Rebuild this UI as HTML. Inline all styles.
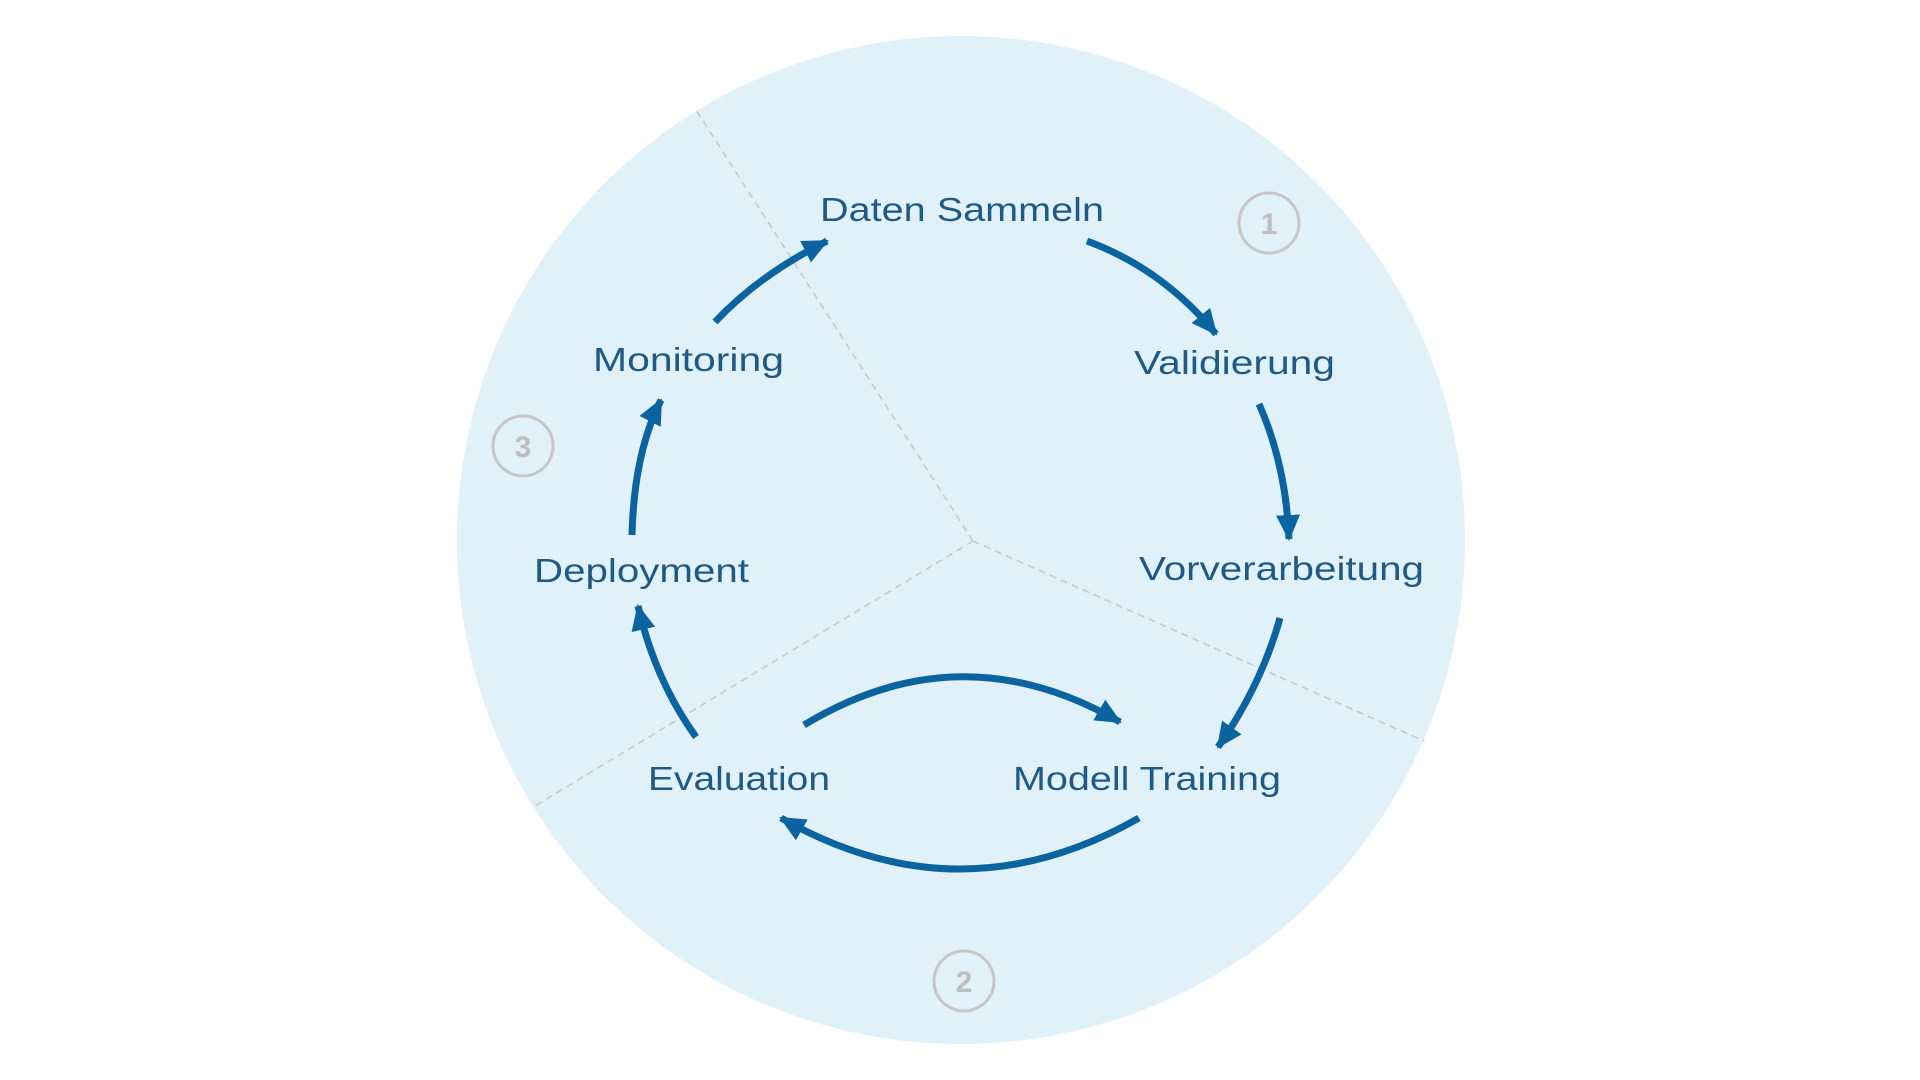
<!DOCTYPE html>
<html><head><meta charset="utf-8"><style>
html,body{margin:0;padding:0;background:#fff;}
svg{display:block;}
text{font-family:"Liberation Sans",sans-serif;}
</style></head><body>
<svg width="1920" height="1080" viewBox="0 0 1920 1080" xmlns="http://www.w3.org/2000/svg">
<defs>
<marker id="ah" markerUnits="userSpaceOnUse" markerWidth="30" markerHeight="26" refX="24" refY="12" orient="auto">
<path d="M0,0 L26,12 L0,24 Z" fill="#0b64a0"/>
</marker>
</defs>
<circle cx="961" cy="540" r="504" fill="#e1f1fa"/>
<g stroke="#c9c9c9" stroke-width="1.6" stroke-dasharray="7,5" fill="none">
<line x1="973" y1="541" x2="696" y2="110"/>
<line x1="973" y1="541" x2="1424" y2="741"/>
<line x1="973" y1="541" x2="535" y2="806"/>
</g>
<g stroke="#c6c6c6" stroke-width="3" fill="none">
<circle cx="1269" cy="223" r="30"/>
<circle cx="523" cy="446" r="30"/>
<circle cx="964" cy="981" r="30"/>
</g>
<g fill="#bdbdbd" font-weight="bold" font-size="30" text-anchor="middle">
<text x="1269" y="234">1</text>
<text x="523" y="457">3</text>
<text x="964" y="992">2</text>
</g>
<g stroke="#0b64a0" stroke-width="7" fill="none" marker-end="url(#ah)">
<path d="M1087,241 Q1163,269 1216,334"/>
<path d="M1259,404 Q1286,465 1289,539"/>
<path d="M1280,618 Q1261,686 1218,747"/>
<path d="M804,725 Q961,630 1120,722"/>
<path d="M1139,818 Q960,920 781,818"/>
<path d="M696,737 Q655,680 638,606"/>
<path d="M632,535 Q634,453 661,400"/>
<path d="M715,322 Q759,275 827,241"/>
</g>
<g fill="#1f5a85" font-size="33">
<text x="820" y="221" textLength="284" lengthAdjust="spacingAndGlyphs">Daten Sammeln</text>
<text x="1134" y="374" textLength="201" lengthAdjust="spacingAndGlyphs">Validierung</text>
<text x="1139" y="580" textLength="285" lengthAdjust="spacingAndGlyphs">Vorverarbeitung</text>
<text x="1013" y="790" textLength="268" lengthAdjust="spacingAndGlyphs">Modell Training</text>
<text x="648" y="790" textLength="182" lengthAdjust="spacingAndGlyphs">Evaluation</text>
<text x="534" y="582" textLength="215" lengthAdjust="spacingAndGlyphs">Deployment</text>
<text x="593" y="371" textLength="191" lengthAdjust="spacingAndGlyphs">Monitoring</text>
</g>
</svg>
</body></html>
